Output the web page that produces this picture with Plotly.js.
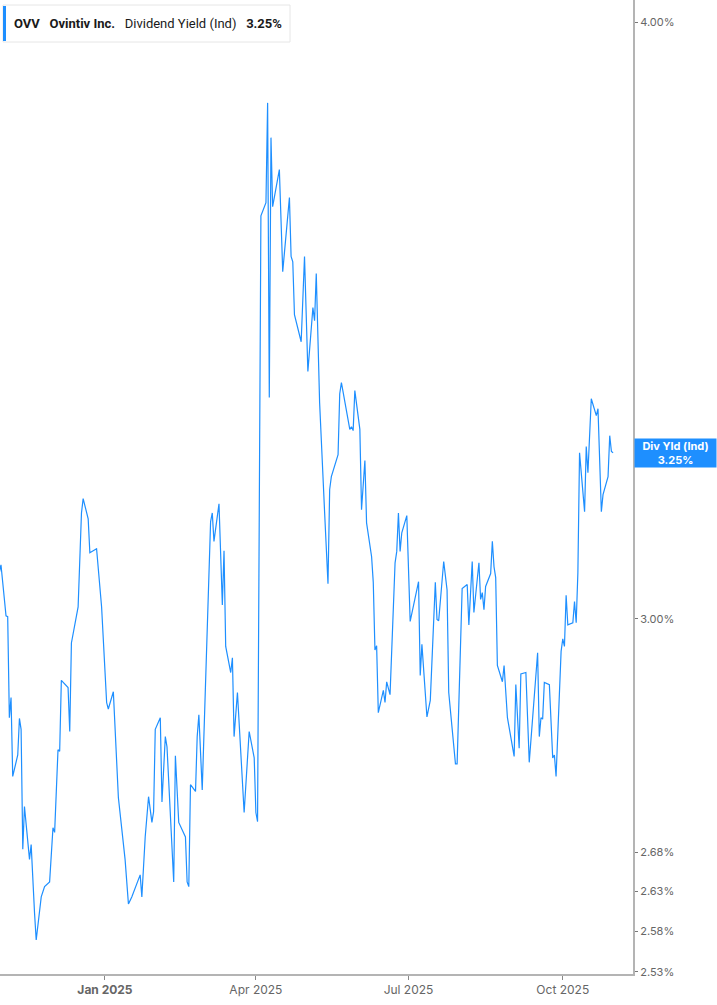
<!DOCTYPE html>
<html>
<head>
<meta charset="utf-8">
<script src="https://cdn.plot.ly/plotly-3.0.1.min.js"></script>
<style>
  html, body { margin: 0; padding: 0; background: #fff; }
  #chart { width: 717px; height: 1005px; }
</style>
</head>
<body>
<div id="chart"></div>
<script>
// OVV dividend yield (Ind), %
const dates = [
  '2024-10-30','2024-10-31','2024-11-03','2024-11-04','2024-11-05','2024-11-06','2024-11-07','2024-11-10',
  '2024-11-11','2024-11-12','2024-11-13','2024-11-14','2024-11-17','2024-11-18','2024-11-20','2024-11-21',
  '2024-11-24','2024-11-26','2024-11-29','2024-12-01','2024-12-02','2024-12-04','2024-12-05','2024-12-06',
  '2024-12-10','2024-12-11','2024-12-12','2024-12-16','2024-12-18','2024-12-19','2024-12-22','2024-12-23',
  '2024-12-27','2024-12-30','2025-01-02','2025-01-03','2025-01-06','2025-01-09','2025-01-13','2025-01-15',
  '2025-01-17','2025-01-22','2025-01-23','2025-01-25','2025-01-27','2025-01-29','2025-01-30','2025-01-31',
  '2025-02-03','2025-02-04','2025-02-06','2025-02-07','2025-02-11','2025-02-12','2025-02-14','2025-02-18',
  '2025-02-19','2025-02-20','2025-02-21','2025-02-24','2025-02-25','2025-02-26','2025-02-28','2025-03-02',
  '2025-03-05','2025-03-06','2025-03-07','2025-03-10','2025-03-12','2025-03-13','2025-03-14','2025-03-17',
  '2025-03-18','2025-03-19','2025-03-21','2025-03-25','2025-03-28','2025-03-31','2025-04-01','2025-04-02',
  '2025-04-03','2025-04-04','2025-04-07','2025-04-08','2025-04-09','2025-04-10','2025-04-11','2025-04-15',
  '2025-04-17','2025-04-21','2025-04-22','2025-04-23','2025-04-24','2025-04-28','2025-04-30','2025-05-02',
  '2025-05-05','2025-05-06','2025-05-07','2025-05-09','2025-05-12','2025-05-14','2025-05-15','2025-05-16',
  '2025-05-20','2025-05-21','2025-05-22','2025-05-27','2025-05-28','2025-05-29','2025-05-30','2025-06-02',
  '2025-06-03','2025-06-05','2025-06-06','2025-06-09','2025-06-10','2025-06-11','2025-06-12','2025-06-13',
  '2025-06-16','2025-06-17','2025-06-18','2025-06-20','2025-06-23','2025-06-24','2025-06-25','2025-06-26',
  '2025-06-27','2025-06-30','2025-07-02','2025-07-07','2025-07-08','2025-07-09','2025-07-12','2025-07-14',
  '2025-07-17','2025-07-18','2025-07-19','2025-07-22','2025-07-24','2025-07-25','2025-07-29','2025-07-30',
  '2025-08-02','2025-08-05','2025-08-06','2025-08-08','2025-08-09','2025-08-12','2025-08-13','2025-08-14',
  '2025-08-15','2025-08-16','2025-08-19','2025-08-20','2025-08-21','2025-08-22','2025-08-23','2025-08-26',
  '2025-08-27','2025-08-29','2025-09-02','2025-09-03','2025-09-05','2025-09-06','2025-09-09','2025-09-11',
  '2025-09-16','2025-09-17','2025-09-18','2025-09-19','2025-09-20','2025-09-23','2025-09-25','2025-09-26',
  '2025-09-27','2025-09-30','2025-10-01','2025-10-02','2025-10-03','2025-10-04','2025-10-07','2025-10-08',
  '2025-10-09','2025-10-10','2025-10-11','2025-10-14','2025-10-15','2025-10-16','2025-10-18','2025-10-21',
  '2025-10-22','2025-10-24','2025-10-25','2025-10-28','2025-10-29','2025-10-30','2025-10-31'
];
const yields = [
  3.067,3.079,3.004,3.003,2.860,2.888,2.780,2.809,
  2.859,2.844,2.684,2.740,2.671,2.690,2.603,2.569,
  2.623,2.636,2.642,2.712,2.706,2.816,2.814,2.912,
  2.902,2.841,2.965,3.017,3.157,3.179,3.148,3.097,
  3.103,3.017,2.881,2.872,2.896,2.752,2.671,2.614,
  2.623,2.651,2.623,2.700,2.753,2.719,2.733,2.844,
  2.860,2.746,2.834,2.820,2.642,2.808,2.719,2.700,
  2.642,2.636,2.769,2.760,2.834,2.864,2.762,2.899,
  3.144,3.157,3.114,3.171,3.020,3.100,2.960,2.923,
  2.944,2.834,2.895,2.732,2.841,2.805,2.732,2.720,
  3.072,3.644,3.667,3.848,3.338,3.784,3.660,3.726,
  3.547,3.676,3.573,3.564,3.474,3.429,3.573,3.380,
  3.486,3.464,3.544,3.330,3.157,3.051,3.193,3.213,
  3.247,3.344,3.362,3.287,3.291,3.285,3.349,3.287,
  3.162,3.238,3.142,3.091,3.053,2.955,2.961,2.867,
  2.898,2.881,2.910,2.892,3.082,3.099,3.157,3.099,
  3.127,3.153,2.996,3.054,2.919,2.963,2.861,2.884,
  3.053,2.999,2.997,3.084,3.042,2.895,2.797,2.797,
  3.044,3.050,2.991,3.084,3.009,3.082,3.028,3.038,
  3.013,3.047,3.066,3.114,3.076,3.060,2.933,2.910,
  2.933,2.860,2.807,2.906,2.818,2.921,2.923,2.799,
  2.951,2.834,2.860,2.858,2.909,2.906,2.805,2.809,
  2.780,2.953,2.971,2.960,3.034,2.991,2.994,3.025,
  2.994,3.067,3.250,3.159,3.260,3.219,3.336,3.309,
  3.320,3.159,3.185,3.213,3.277,3.252,3.250
];
const yTicks = [2.53, 2.58, 2.63, 2.68, 3.00, 4.00];
const yTickText = ['2.53%', '2.58%', '2.63%', '2.68%', '3.00%', '4.00%'];
const xTicks = ['2025-01-01', '2025-04-01', '2025-07-01', '2025-10-01'];
const xTickText = ['<b>Jan 2025</b>', 'Apr 2025', 'Jul 2025', 'Oct 2025'];
const xRange = ['2024-10-30 10:00', '2025-11-11 21:00'];
const yRange = [2.5272, 4.0439];

const ticker = 'OVV';
const company = 'Ovintiv Inc.';
const metric = 'Dividend Yield (Ind)';
const lastVal = yields[yields.length - 1];

const blue = '#1e8fff';

const trace = {
  x: dates,
  y: yields,
  type: 'scatter',
  mode: 'lines',
  line: { color: blue, width: 1.2 },
  hoverinfo: 'skip'
};

const layout = {
  width: 717,
  height: 1005,
  margin: { l: 0, r: 84, t: 0, b: 31 },
  paper_bgcolor: '#fff',
  plot_bgcolor: '#fff',
  showlegend: false,
  font: { family: 'Inter, Roboto, sans-serif', color: '#555' },
  xaxis: {
    type: 'date',
    range: xRange,
    showgrid: false,
    zeroline: false,
    showline: true,
    linecolor: '#b4b4b4',
    linewidth: 2,
    tickmode: 'array',
    tickvals: xTicks,
    ticktext: xTickText,
    ticks: 'outside',
    ticklen: 4,
    tickwidth: 1,
    tickcolor: '#888',
    tickfont: { size: 12, color: '#666' }
  },
  yaxis: {
    type: 'log',
    side: 'right',
    range: [Math.log10(yRange[0]), Math.log10(yRange[1])],
    showgrid: false,
    zeroline: false,
    showline: true,
    linecolor: '#b4b4b4',
    linewidth: 2,
    tickmode: 'array',
    tickvals: yTicks,
    ticktext: yTickText,
    ticks: 'outside',
    ticklen: 3,
    tickwidth: 1,
    tickcolor: '#777',
    tickfont: { size: 11, color: '#666' }
  },
  shapes: [
    {
      type: 'rect', xref: 'paper', yref: 'paper',
      x0: 3 / 633, x1: 290 / 633, y0: 1 - 42 / 974, y1: 1 - 5 / 974,
      line: { color: '#e6e6e6', width: 1 }, fillcolor: '#fff', layer: 'above'
    },
    {
      type: 'rect', xref: 'paper', yref: 'paper',
      x0: 3 / 633, x1: 6 / 633, y0: 1 - 41 / 974, y1: 1 - 6 / 974,
      line: { width: 0 }, fillcolor: blue, layer: 'above'
    }
  ],
  annotations: [
    {
      xref: 'paper', yref: 'paper',
      x: 12 / 633, y: 1 - 23.5 / 974,
      xanchor: 'left', yanchor: 'middle',
      showarrow: false,
      text: '<b>' + ticker + '</b>   <b>' + company + '</b>   ' + metric + '   <b>' + lastVal.toFixed(2) + '%</b>',
      font: { size: 13, color: '#1a1a1a', family: 'Roboto, Inter, sans-serif' }
    },
    {
      xref: 'paper', yref: 'y',
      x: 1, y: Math.log10(lastVal),
      xanchor: 'left', yanchor: 'middle',
      xshift: 1,
      showarrow: false,
      width: 79, height: 26,
      bgcolor: blue,
      borderpad: 1,
      align: 'center',
      text: '<b>Div Yld (Ind)</b><br><b>' + lastVal.toFixed(2) + '%</b>',
      font: { size: 11, color: '#fff', family: 'Inter, Roboto, sans-serif' }
    }
  ]
};

Plotly.newPlot('chart', [trace], layout, { displayModeBar: false, staticPlot: true });
</script>
</body>
</html>
